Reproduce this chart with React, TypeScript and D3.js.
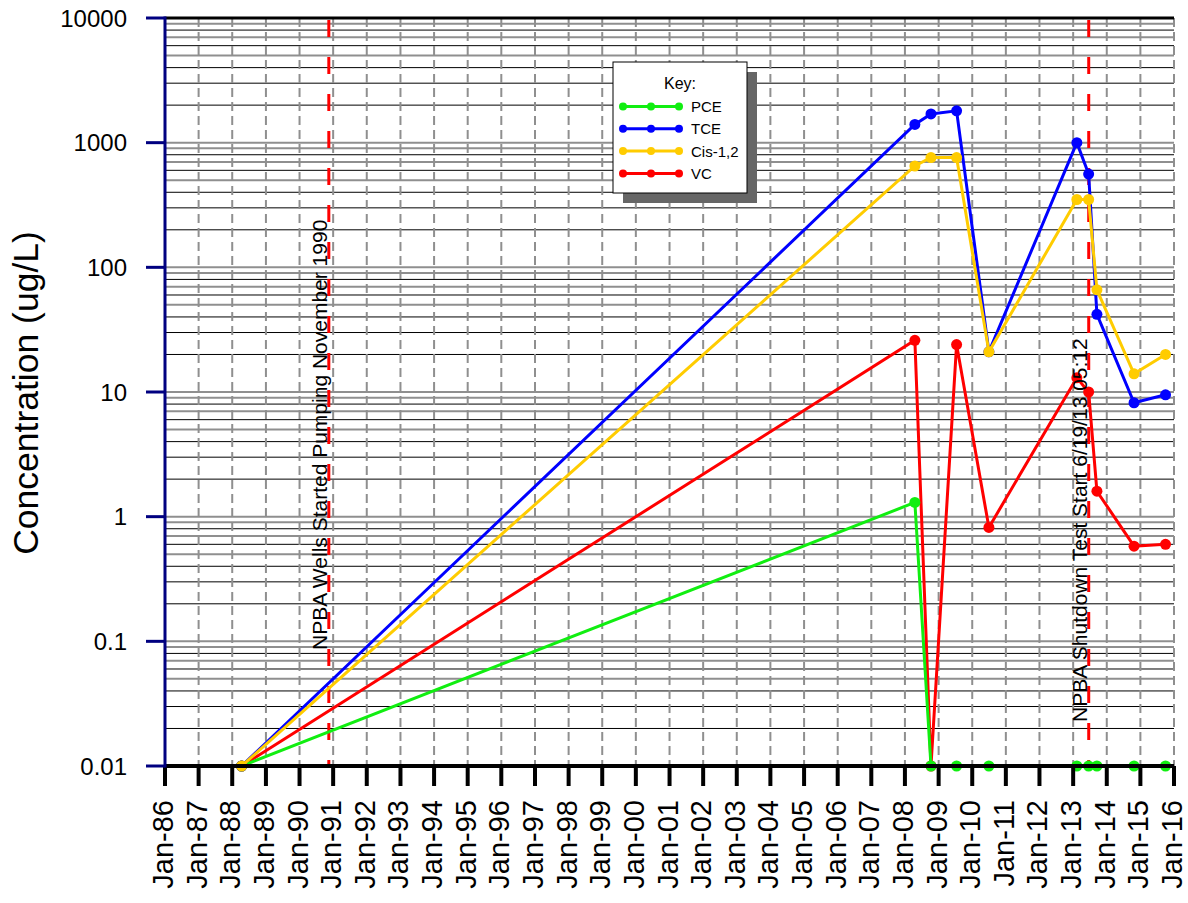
import React from "react";
import * as d3 from "d3";

const sampleDates = ["1988-04-12", "2008-04-18", "2008-10-10", "2009-07-15", "2010-07-01", "2013-02-10", "2013-06-18", "2013-09-16", "2014-10-24", "2015-10-01"];
const pce = [0.01, 1.3, 0.01, 0.01, 0.01, 0.01, 0.01, 0.01, 0.01, 0.01];
const tce = [0.01, 1400, 1700, 1800, 21, 1000, 560, 42, 8.2, 9.5];
const cis = [0.01, 650, 760, 760, 21, 350, 350, 66, 14, 20];
const vc = [0.01, 26, 0.01, 24, 0.82, 13, 10, 1.6, 0.58, 0.6];

const seriesNames = ["PCE", "TCE", "Cis-1,2", "VC"];
const seriesColors = ["#11ee11", "#0000ff", "#ffcc00", "#ff0000"];
const seriesValues = [pce, tce, cis, vc];
const drawOrder = [3, 0, 1, 2];

const yTickValues = [0.01, 0.1, 1, 10, 100, 1000, 10000];
const yTickLabels = ["0.01", "0.1", "1", "10", "100", "1000", "10000"];

const eventDates = ["1990-11-15", "2013-06-19"];
const eventLabels = ["NPBA Wells Started Pumping November 1990", "NPBA Shutdown Test Start 6/19/13 05:12"];

const FONT = "'Liberation Sans', Arial, sans-serif";

export default function App() {
  const parse = d3.timeParse("%Y-%m-%d");
  const x = d3.scaleTime().domain([parse("1986-01-01")!, parse("2016-01-01")!]).range([165, 1174]);
  const y = d3.scaleLog().domain([0.01, 10000]).range([766, 18]);
  const [x0, x1] = x.range();
  const yearTicks = d3.timeYear.range(parse("1986-01-01")!, parse("2016-01-02")!);
  const fmt = d3.timeFormat("%b-%y");
  const dates = sampleDates.map((s) => parse(s)!);

  const minor: { v: number; grey: boolean }[] = [];
  for (let e = -2; e < 4; e++) {
    for (let m = 1; m <= 9; m++) {
      const v = m * Math.pow(10, e);
      if (m === 1 && e === -2) continue;
      const grey = m === 1 || m === 5 || m === 7 || m === 9;
      minor.push({ v, grey });
    }
  }

  const line = d3
    .line<[Date, number]>()
    .x((d) => x(d[0]))
    .y((d) => y(d[1]));

  return (
    <svg width={1188} height={903} style={{ position: "absolute", left: 0, top: 0, background: "#fff" }} fontFamily={FONT}>
      {minor.map((g, i) => (
        <line key={"h" + i} x1={x0} x2={x1} y1={y(g.v)} y2={y(g.v)} stroke={g.grey ? "#8f8f8f" : "#000"} strokeWidth={g.grey ? 2 : 1} />
      ))}
      {yearTicks.slice(1).map((d, i) => (
        <line key={"v" + i} x1={x(d)} x2={x(d)} y1={18} y2={766} stroke="#8f8f8f" strokeWidth={2} strokeDasharray="9,5" />
      ))}
      {eventDates.map((s, i) => (
        <line key={"e" + i} x1={x(parse(s)!)} x2={x(parse(s)!)} y1={20} y2={766} stroke="#ff0000" strokeWidth={3} strokeDasharray="17,20" />
      ))}
      <line x1={x0} x2={x1} y1={18} y2={18} stroke="#000" strokeWidth={3} />
      {drawOrder.map((si) => {
        const pts: [Date, number][] = dates.map((d, j) => [d, seriesValues[si][j]]);
        return (
          <g key={"s" + si}>
            <path d={line(pts) || ""} fill="none" stroke={seriesColors[si]} strokeWidth={3} />
            {pts.map((p, j) => (
              <circle key={j} cx={x(p[0])} cy={y(p[1])} r={5.5} fill={seriesColors[si]} />
            ))}
          </g>
        );
      })}
      {eventDates.map((s, i) => {
        const ex = x(parse(s)!) - 2;
        const sy = i === 0 ? 650 : 722;
        return (
          <text key={"el" + i} transform={`translate(${ex},${sy}) rotate(-90)`} fontSize={21} fill="#000">
            {eventLabels[i]}
          </text>
        );
      })}
      <line x1={x0} x2={x1} y1={766} y2={766} stroke="#000" strokeWidth={4} />
      {yearTicks.map((d, i) => (
        <g key={"xt" + i}>
          <line x1={x(d)} x2={x(d)} y1={766} y2={786} stroke="#000" strokeWidth={4} />
          <text transform={`translate(${x(d) + 8},${800}) rotate(-90)`} textAnchor="end" fontSize={29} fill="#000">
            {fmt(d)}
          </text>
        </g>
      ))}
      <line x1={165} x2={165} y1={16.5} y2={767.5} stroke="#000080" strokeWidth={3} />
      {yTickValues.map((v, i) => (
        <g key={"yt" + i}>
          <line x1={146} x2={165} y1={y(v)} y2={y(v)} stroke="#000080" strokeWidth={3} />
          <text x={127} y={y(v) + 8.5} textAnchor="end" fontSize={24} fill="#000">
            {yTickLabels[i]}
          </text>
        </g>
      ))}
      <text transform="translate(38,393) rotate(-90)" textAnchor="middle" fontSize={35.5} fill="#000">
        Concentration (ug/L)
      </text>
      <rect x={623} y={72} width={134} height={131} fill="#666" />
      <rect x={613} y={62} width={134} height={131} fill="#fff" stroke="#000" strokeWidth={1} />
      <text x={680} y={89} textAnchor="middle" fontSize={16} fill="#000">
        Key:
      </text>
      {seriesNames.map((n, i) => {
        const ly = 106.5 + i * 22.3;
        return (
          <g key={"lg" + i}>
            <line x1={623} x2={679} y1={ly} y2={ly} stroke={seriesColors[i]} strokeWidth={3} />
            {[623, 651, 679].map((cx) => (
              <circle key={cx} cx={cx} cy={ly} r={4} fill={seriesColors[i]} />
            ))}
            <text x={691} y={ly + 5.5} fontSize={15} fill="#000">
              {n}
            </text>
          </g>
        );
      })}
    </svg>
  );
}
